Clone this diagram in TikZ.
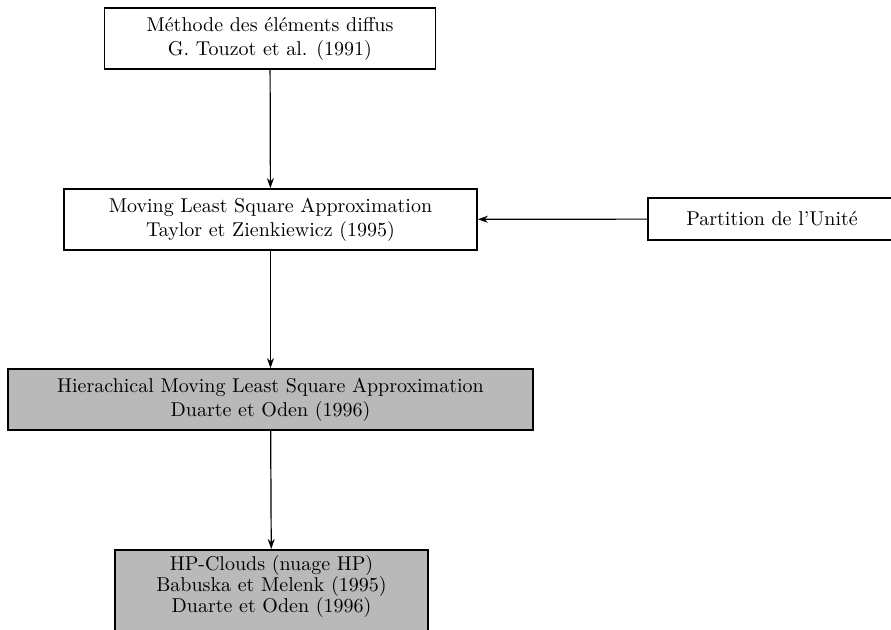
\documentclass[tikz,border=0pt]{standalone}
\usepackage{amsmath}
\usepackage{tikz}
\usetikzlibrary{arrows.meta}

\begin{document}
\begin{tikzpicture}[x=0.5pt,y=-0.5pt,
    box/.style={draw, line width=0.9pt, align=center, inner sep=0pt},
    greybox/.style={box, fill=gray!55},
    fleche/.style={-{Stealth[length=5pt,width=3.5pt]}, line width=0.6pt}] % cadre
        \useasboundingbox (0,0) rectangle (891,630);
        \coordinate (M) at (270,38.5);
        \coordinate (L) at (270.5,219.5);
        \coordinate (P) at (772,219);
        \coordinate (H) at (270.5,399.5);
        \coordinate (C) at (271.5,549); % boites
        \node[box, minimum width=165.5pt, minimum height=30.5pt] (meth) at (M)
            {M\'ethode des \'el\'ements diffus\\G. Touzot et al. (1991)};
        \node[box, minimum width=206.5pt, minimum height=30.5pt] (mls) at (L)
            {Moving Least Square Approximation\\Taylor et Zienkiewicz (1995)};
        \node[box, minimum width=124pt, minimum height=21pt] (part) at (P)
            {Partition de l'Unit\'e};
        \node[greybox, minimum width=262.5pt, minimum height=30.5pt] (hmls) at (H)
            {Hierachical Moving Least Square Approximation\\Duarte et Oden (1996)};
        \node[greybox, anchor=north, minimum width=156.5pt, inner ysep=3pt, text depth=14pt] (hp) at (C)
            {HP-Clouds (nuage HP)\\[-1.5pt]Babuska et Melenk (1995)\\[-1.5pt]Duarte et Oden (1996)};
        % fleches
        \draw[fleche] (meth) -- (mls);
        \draw[fleche] (part) -- (mls);
        \draw[fleche] (mls) -- (hmls);
        \draw[fleche] (hmls) -- (hp);

    \end{tikzpicture}
\end{document}
